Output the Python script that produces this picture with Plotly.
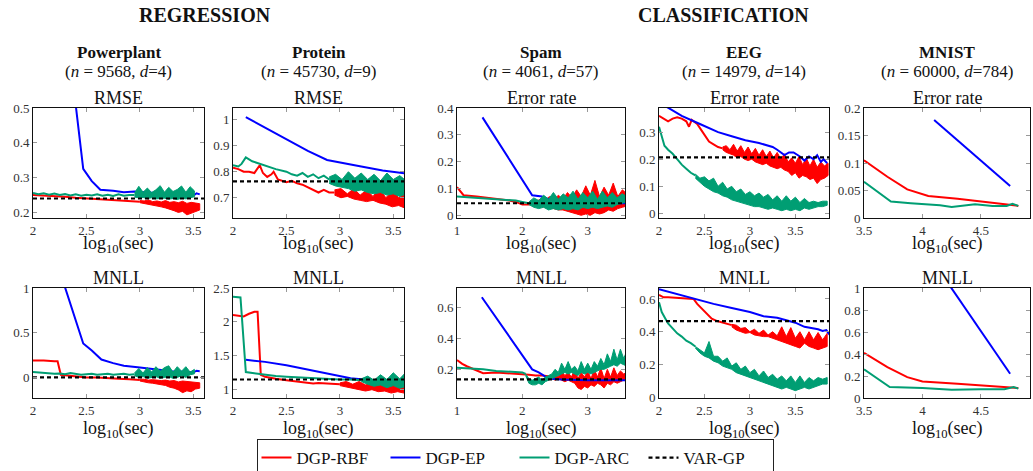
import plotly.graph_objects as go

# ---------------- colours / names ----------------
SERIES = ["DGP-RBF", "DGP-EP", "DGP-ARC", "VAR-GP"]
COLORS = {"DGP-RBF": "#ff0000", "DGP-EP": "#0000ff", "DGP-ARC": "#009e73", "VAR-GP": "#000000"}

# Each noisy series = a smooth part (x, y) followed by a noisy band (x, low, high).

# ---------------- Powerplant RMSE ----------------
pp_rmse_rbf_x = [2.0, 2.1, 2.2, 2.3, 2.4, 2.5, 2.6, 2.7, 2.8, 2.9, 3.0]
pp_rmse_rbf_y = [0.250, 0.249, 0.247, 0.245, 0.242, 0.240, 0.239, 0.237, 0.235, 0.233, 0.231]
pp_rmse_rbf_bx = [3.00, 3.04, 3.08, 3.12, 3.16, 3.20, 3.24, 3.28, 3.32, 3.36, 3.40, 3.44, 3.48, 3.52, 3.56]
pp_rmse_rbf_hi = [0.234, 0.233, 0.236, 0.231, 0.233, 0.230, 0.234, 0.229, 0.231, 0.228, 0.232, 0.226, 0.229, 0.227, 0.225]
pp_rmse_rbf_lo = [0.228, 0.224, 0.222, 0.221, 0.218, 0.216, 0.213, 0.210, 0.205, 0.200, 0.203, 0.193, 0.198, 0.203, 0.207]
pp_rmse_ep_x = [2.38, 2.47, 2.55, 2.63, 2.75, 2.85, 2.95, 3.05, 3.2, 3.35, 3.45, 3.5, 3.53, 3.56]
pp_rmse_ep_y = [0.56, 0.325, 0.29, 0.265, 0.262, 0.258, 0.26, 0.258, 0.255, 0.252, 0.25, 0.248, 0.255, 0.252]
pp_rmse_arc_x = [2.0, 2.05, 2.1, 2.15, 2.2, 2.25, 2.3, 2.35, 2.4, 2.45, 2.5, 2.55, 2.6, 2.65, 2.7, 2.75, 2.8, 2.85, 2.9, 2.95]
pp_rmse_arc_y = [0.256, 0.252, 0.255, 0.251, 0.254, 0.250, 0.253, 0.249, 0.252, 0.248, 0.251, 0.249, 0.252, 0.248, 0.251, 0.247, 0.252, 0.248, 0.250, 0.250]
pp_rmse_arc_bx = [2.95, 2.99, 3.03, 3.07, 3.11, 3.15, 3.19, 3.23, 3.27, 3.31, 3.35, 3.39, 3.43, 3.47, 3.51]
pp_rmse_arc_hi = [0.256, 0.275, 0.258, 0.270, 0.257, 0.265, 0.277, 0.258, 0.272, 0.260, 0.266, 0.276, 0.258, 0.274, 0.262]
pp_rmse_arc_lo = [0.244, 0.242, 0.243, 0.240, 0.242, 0.239, 0.240, 0.241, 0.238, 0.240, 0.237, 0.241, 0.239, 0.242, 0.245]
pp_rmse_var_x = [2.0, 3.6]
pp_rmse_var_y = [0.24, 0.24]

# ---------------- Powerplant MNLL ----------------
pp_mnll_rbf_x = [2.0, 2.1, 2.2, 2.23, 2.26, 2.3, 2.4, 2.5, 2.6, 2.7, 2.8, 2.9, 3.0]
pp_mnll_rbf_y = [0.19, 0.19, 0.18, 0.18, 0.03, 0.025, 0.015, 0.0, 0.0, -0.01, -0.015, -0.02, -0.03]
pp_mnll_rbf_bx = pp_rmse_rbf_bx
pp_mnll_rbf_hi = [-0.02, -0.02, -0.03, -0.025, -0.03, -0.035, -0.03, -0.04, -0.035, -0.05, -0.04, -0.045, -0.05, -0.06, -0.06]
pp_mnll_rbf_lo = [-0.04, -0.05, -0.06, -0.065, -0.07, -0.08, -0.09, -0.11, -0.12, -0.14, -0.17, -0.15, -0.16, -0.13, -0.12]
pp_mnll_ep_x = [2.28, 2.47, 2.55, 2.64, 2.75, 2.85, 3.0, 3.15, 3.3, 3.45, 3.5, 3.53, 3.56]
pp_mnll_ep_y = [1.08, 0.38, 0.3, 0.2, 0.16, 0.13, 0.11, 0.09, 0.07, 0.06, 0.055, 0.075, 0.07]
pp_mnll_arc_x = pp_rmse_arc_x
pp_mnll_arc_y = [0.06, 0.055, 0.05, 0.045, 0.04, 0.045, 0.035, 0.05, 0.04, 0.03, 0.035, 0.04, 0.03, 0.035, 0.04, 0.03, 0.035, 0.04, 0.03, 0.035]
pp_mnll_arc_bx = pp_rmse_arc_bx
pp_mnll_arc_hi = [0.05, 0.10, 0.05, 0.11, 0.06, 0.12, 0.07, 0.11, 0.13, 0.06, 0.12, 0.07, 0.12, 0.06, 0.09]
pp_mnll_arc_lo = [0.02, 0.0, 0.01, -0.01, 0.0, 0.01, -0.01, 0.0, 0.01, -0.01, 0.0, 0.02, 0.0, 0.03, 0.04]
pp_mnll_var_x = [2.0, 3.6]
pp_mnll_var_y = [0.0, 0.0]

# ---------------- Protein RMSE ----------------
pr_rmse_ep_x = [2.12, 2.3, 2.5, 2.7, 2.88, 3.0, 3.2, 3.4, 3.55, 3.62, 3.68, 3.72, 3.8, 3.86]
pr_rmse_ep_y = [1.01, 0.97, 0.925, 0.88, 0.845, 0.835, 0.82, 0.805, 0.795, 0.79, 0.79, 0.795, 0.792, 0.785]
pr_rmse_arc_x = [2.0, 2.05, 2.08, 2.12, 2.18, 2.25, 2.3, 2.4, 2.5, 2.55, 2.6, 2.65, 2.7, 2.75, 2.8, 2.85, 2.9]
pr_rmse_arc_y = [0.825, 0.82, 0.83, 0.855, 0.84, 0.83, 0.825, 0.81, 0.80, 0.79, 0.785, 0.795, 0.78, 0.79, 0.775, 0.785, 0.77]
pr_rmse_arc_bx = [2.90, 2.96, 3.02, 3.08, 3.14, 3.20, 3.26, 3.32, 3.38, 3.44, 3.50, 3.56, 3.62, 3.68, 3.74, 3.80, 3.86]
pr_rmse_arc_hi = [0.78, 0.79, 0.77, 0.80, 0.775, 0.795, 0.77, 0.79, 0.765, 0.795, 0.77, 0.785, 0.765, 0.79, 0.765, 0.78, 0.77]
pr_rmse_arc_lo = [0.755, 0.745, 0.74, 0.735, 0.725, 0.73, 0.72, 0.715, 0.72, 0.71, 0.715, 0.705, 0.715, 0.71, 0.72, 0.715, 0.72]
pr_rmse_rbf_x = [2.0, 2.05, 2.1, 2.15, 2.2, 2.25, 2.28, 2.32, 2.36, 2.38, 2.42, 2.5, 2.55, 2.6, 2.65, 2.7, 2.75, 2.8, 2.85, 2.9, 2.95]
pr_rmse_rbf_y = [0.815, 0.81, 0.80, 0.80, 0.795, 0.825, 0.795, 0.78, 0.79, 0.80, 0.77, 0.76, 0.765, 0.755, 0.75, 0.74, 0.73, 0.72, 0.73, 0.72, 0.72]
pr_rmse_rbf_bx = [2.95, 3.01, 3.07, 3.13, 3.19, 3.25, 3.31, 3.37, 3.43, 3.49, 3.55, 3.61, 3.67, 3.73, 3.79, 3.85]
pr_rmse_rbf_hi = [0.73, 0.735, 0.715, 0.735, 0.71, 0.73, 0.705, 0.735, 0.70, 0.725, 0.70, 0.72, 0.695, 0.715, 0.69, 0.70]
pr_rmse_rbf_lo = [0.71, 0.70, 0.705, 0.695, 0.69, 0.685, 0.69, 0.68, 0.675, 0.665, 0.67, 0.66, 0.665, 0.655, 0.665, 0.67]
pr_rmse_var_x = [2.0, 3.9]
pr_rmse_var_y = [0.763, 0.763]

# ---------------- Protein MNLL ----------------
pr_mnll_arc_x = [2.0, 2.07, 2.12, 2.2, 2.3, 2.4, 2.5, 2.6, 2.7, 2.8, 2.9, 3.0, 3.1, 3.2]
pr_mnll_arc_y = [2.37, 2.36, 1.26, 1.24, 1.22, 1.2, 1.19, 1.18, 1.17, 1.17, 1.16, 1.15, 1.15, 1.14]
pr_mnll_arc_bx = [3.20, 3.26, 3.32, 3.38, 3.44, 3.50, 3.56, 3.62, 3.68, 3.74, 3.80, 3.86]
pr_mnll_arc_hi = [1.16, 1.20, 1.14, 1.22, 1.15, 1.25, 1.16, 1.26, 1.15, 1.25, 1.16, 1.20]
pr_mnll_arc_lo = [1.12, 1.08, 1.05, 1.07, 1.03, 1.06, 1.02, 1.05, 1.03, 1.06, 1.04, 1.08]
pr_mnll_rbf_x = [2.0, 2.05, 2.1, 2.15, 2.2, 2.23, 2.26, 2.3, 2.35, 2.4, 2.5, 2.6, 2.7, 2.75, 2.8, 2.9, 3.0]
pr_mnll_rbf_y = [2.1, 2.09, 2.08, 2.12, 2.15, 2.15, 1.22, 1.19, 1.17, 1.16, 1.14, 1.12, 1.1, 1.09, 1.1, 1.09, 1.08]
pr_mnll_rbf_bx = [3.00, 3.06, 3.12, 3.18, 3.24, 3.30, 3.36, 3.42, 3.48, 3.54, 3.60, 3.66, 3.72, 3.78, 3.84]
pr_mnll_rbf_hi = [1.10, 1.12, 1.08, 1.12, 1.07, 1.14, 1.08, 1.13, 1.06, 1.15, 1.07, 1.12, 1.05, 1.10, 1.08]
pr_mnll_rbf_lo = [1.06, 1.04, 1.02, 1.00, 0.98, 1.00, 0.97, 0.98, 0.95, 0.97, 0.95, 0.96, 0.94, 0.97, 0.99]
pr_mnll_ep_x = [2.12, 2.3, 2.5, 2.7, 2.9, 3.1, 3.3, 3.5, 3.7, 3.86]
pr_mnll_ep_y = [1.44, 1.41, 1.36, 1.3, 1.23, 1.17, 1.14, 1.12, 1.11, 1.1]
pr_mnll_var_x = [2.0, 3.9]
pr_mnll_var_y = [1.15, 1.15]

# ---------------- Spam error rate ----------------
sp_err_ep_x = [1.39, 2.15, 2.3, 2.4, 2.5, 2.7, 3.0, 3.3, 3.6]
sp_err_ep_y = [0.365, 0.075, 0.07, 0.06, 0.05, 0.047, 0.045, 0.045, 0.045]
sp_err_rbf_x = [1.0, 1.05, 1.1, 1.3, 1.5, 1.7, 1.8, 1.9, 2.0, 2.1, 2.2]
sp_err_rbf_y = [0.105, 0.09, 0.075, 0.07, 0.065, 0.06, 0.055, 0.05, 0.04, 0.04, 0.045]
sp_err_rbf_bx = [2.20, 2.27, 2.34, 2.41, 2.48, 2.55, 2.62, 2.69, 2.76, 2.83, 2.90, 2.97, 3.04, 3.11, 3.18, 3.25, 3.32, 3.39, 3.46, 3.53, 3.60]
sp_err_rbf_hi = [0.05, 0.06, 0.05, 0.07, 0.055, 0.075, 0.06, 0.085, 0.065, 0.095, 0.07, 0.11, 0.075, 0.13, 0.07, 0.105, 0.075, 0.12, 0.07, 0.095, 0.08]
sp_err_rbf_lo = [0.04, 0.035, 0.03, 0.03, 0.025, 0.02, 0.02, 0.015, 0.01, 0.005, 0.0, 0.005, 0.0, 0.01, 0.005, 0.01, 0.02, 0.015, 0.025, 0.03, 0.035]
sp_err_arc_x = [1.0, 1.2, 1.4, 1.6, 1.8, 1.9, 2.0, 2.05, 2.1]
sp_err_arc_y = [0.07, 0.067, 0.063, 0.06, 0.058, 0.055, 0.05, 0.048, 0.045]
sp_err_arc_bx = [2.100, 2.175, 2.250, 2.325, 2.400, 2.475, 2.550, 2.625, 2.700, 2.775, 2.850, 2.925, 3.000, 3.075, 3.150, 3.225, 3.300, 3.375, 3.450, 3.525, 3.600]
sp_err_arc_hi = [0.05, 0.065, 0.055, 0.075, 0.06, 0.085, 0.06, 0.08, 0.065, 0.09, 0.06, 0.085, 0.065, 0.09, 0.06, 0.09, 0.065, 0.085, 0.065, 0.08, 0.07]
sp_err_arc_lo = [0.04, 0.03, 0.025, 0.03, 0.02, 0.025, 0.02, 0.025, 0.02, 0.025, 0.02, 0.03, 0.025, 0.03, 0.025, 0.03, 0.035, 0.03, 0.04, 0.045, 0.05]
sp_err_var_x = [1.0, 3.6]
sp_err_var_y = [0.045, 0.045]

# ---------------- Spam MNLL ----------------
sp_mnll_ep_x = [1.38, 2.15, 2.25, 2.4, 2.6, 3.0, 3.6]
sp_mnll_ep_y = [0.665, 0.2, 0.18, 0.14, 0.135, 0.13, 0.13]
sp_mnll_rbf_x = [1.0, 1.08, 1.15, 1.3, 1.4, 1.6, 1.8, 2.0, 2.1, 2.2, 2.3, 2.4, 2.45]
sp_mnll_rbf_y = [0.26, 0.235, 0.22, 0.19, 0.175, 0.18, 0.175, 0.17, 0.165, 0.16, 0.16, 0.155, 0.15]
sp_mnll_rbf_bx = [2.45, 2.50, 2.55, 2.60, 2.65, 2.70, 2.75, 2.80, 2.85, 2.90, 2.95, 3.00, 3.05, 3.10, 3.15, 3.20, 3.25, 3.30, 3.35, 3.40, 3.45, 3.50, 3.55, 3.60]
sp_mnll_rbf_hi = [0.16, 0.17, 0.15, 0.19, 0.16, 0.18, 0.15, 0.20, 0.14, 0.18, 0.15, 0.19, 0.14, 0.20, 0.15, 0.21, 0.14, 0.20, 0.15, 0.21, 0.16, 0.19, 0.17, 0.18]
sp_mnll_rbf_lo = [0.14, 0.13, 0.14, 0.13, 0.12, 0.13, 0.12, 0.11, 0.08, 0.07, 0.09, 0.08, 0.10, 0.09, 0.11, 0.10, 0.08, 0.11, 0.10, 0.12, 0.11, 0.12, 0.13, 0.12]
sp_mnll_arc_x = [1.0, 1.2, 1.4, 1.6, 1.8, 2.0, 2.05]
sp_mnll_arc_y = [0.21, 0.205, 0.2, 0.19, 0.185, 0.18, 0.17]
sp_mnll_arc_bx = [2.05, 2.10, 2.15, 2.20, 2.25, 2.30, 2.35, 2.40, 2.45, 2.50, 2.55, 2.60, 2.65, 2.70, 2.75, 2.80,
                  2.85, 2.90, 2.95, 3.00, 3.05, 3.10, 3.15, 3.20, 3.25, 3.30, 3.35, 3.40, 3.45, 3.50, 3.55, 3.60]
sp_mnll_arc_hi = [0.17, 0.14, 0.13, 0.14, 0.15, 0.13, 0.15, 0.16, 0.17, 0.20, 0.18, 0.24, 0.20, 0.25, 0.20, 0.22,
                  0.19, 0.25, 0.20, 0.24, 0.20, 0.25, 0.22, 0.27, 0.23, 0.30, 0.25, 0.33, 0.26, 0.33, 0.27, 0.32]
sp_mnll_arc_lo = [0.16, 0.11, 0.10, 0.10, 0.11, 0.10, 0.12, 0.13, 0.14, 0.15, 0.16, 0.17, 0.18, 0.17, 0.18, 0.17,
                  0.16, 0.18, 0.17, 0.18, 0.17, 0.18, 0.19, 0.20, 0.20, 0.21, 0.22, 0.23, 0.22, 0.24, 0.23, 0.22]
sp_mnll_var_x = [1.0, 3.6]
sp_mnll_var_y = [0.135, 0.135]

# ---------------- EEG error rate ----------------
eeg_err_ep_x = [2.05, 2.1, 2.25, 2.45, 2.65, 2.8, 2.95, 3.1, 3.25, 3.3, 3.38, 3.43, 3.48, 3.55, 3.6, 3.65, 3.7, 3.74, 3.78, 3.81, 3.85]
eeg_err_ep_y = [0.40, 0.39, 0.36, 0.33, 0.30, 0.285, 0.27, 0.26, 0.245, 0.235, 0.215, 0.225, 0.225, 0.21, 0.195, 0.21, 0.2, 0.215, 0.19, 0.2, 0.185]
eeg_err_rbf_x = [2.0, 2.05, 2.1, 2.15, 2.2, 2.25, 2.3, 2.33, 2.36, 2.38, 2.42, 2.46, 2.5, 2.55, 2.6, 2.65, 2.7]
eeg_err_rbf_y = [0.36, 0.35, 0.34, 0.35, 0.355, 0.35, 0.34, 0.32, 0.345, 0.34, 0.33, 0.31, 0.29, 0.265, 0.255, 0.245, 0.24]
eeg_err_rbf_bx = [2.70, 2.74, 2.78, 2.82, 2.86, 2.90, 2.94, 2.98, 3.02, 3.06, 3.10, 3.14, 3.18, 3.22, 3.26,
                  3.30, 3.34, 3.38, 3.42, 3.46, 3.50, 3.54, 3.58, 3.62, 3.66, 3.70, 3.74, 3.78, 3.82, 3.86]
eeg_err_rbf_hi = [0.245, 0.25, 0.235, 0.255, 0.23, 0.25, 0.225, 0.245, 0.22, 0.24, 0.215, 0.235, 0.21, 0.23, 0.205,
                  0.225, 0.20, 0.22, 0.19, 0.205, 0.185, 0.21, 0.18, 0.205, 0.175, 0.20, 0.17, 0.19, 0.175, 0.185]
eeg_err_rbf_lo = [0.235, 0.225, 0.22, 0.215, 0.205, 0.21, 0.20, 0.195, 0.20, 0.19, 0.185, 0.18, 0.185, 0.175, 0.17,
                  0.165, 0.17, 0.16, 0.155, 0.14, 0.15, 0.13, 0.14, 0.135, 0.125, 0.13, 0.11, 0.125, 0.13, 0.14]
eeg_err_arc_x = [2.0, 2.03, 2.06, 2.1, 2.15, 2.2, 2.25, 2.3, 2.35, 2.4]
eeg_err_arc_y = [0.32, 0.28, 0.25, 0.235, 0.22, 0.2, 0.18, 0.165, 0.15, 0.14]
eeg_err_arc_bx = [2.40, 2.45, 2.50, 2.55, 2.60, 2.65, 2.70, 2.75, 2.80, 2.85, 2.90, 2.95, 3.00, 3.05, 3.10,
                  3.15, 3.20, 3.25, 3.30, 3.35, 3.40, 3.45, 3.50, 3.55, 3.60, 3.65, 3.70, 3.75, 3.80, 3.85]
eeg_err_arc_hi = [0.145, 0.13, 0.135, 0.12, 0.13, 0.10, 0.115, 0.09, 0.10, 0.08, 0.09, 0.07, 0.08, 0.065, 0.075,
                  0.06, 0.07, 0.05, 0.065, 0.045, 0.065, 0.045, 0.06, 0.04, 0.055, 0.04, 0.045, 0.04, 0.045, 0.045]
eeg_err_arc_lo = [0.13, 0.115, 0.10, 0.09, 0.08, 0.075, 0.065, 0.06, 0.05, 0.045, 0.04, 0.035, 0.03, 0.025, 0.025,
                  0.02, 0.015, 0.02, 0.015, 0.01, 0.015, 0.01, 0.015, 0.01, 0.02, 0.015, 0.02, 0.025, 0.025, 0.03]
eeg_err_var_x = [2.0, 3.9]
eeg_err_var_y = [0.207, 0.207]

# ---------------- EEG MNLL ----------------
eeg_mnll_ep_x = [2.0, 2.2, 2.4, 2.6, 2.8, 3.0, 3.15, 3.3, 3.4, 3.5, 3.6, 3.7, 3.75, 3.8, 3.84, 3.88]
eeg_mnll_ep_y = [0.66, 0.63, 0.60, 0.57, 0.545, 0.52, 0.495, 0.485, 0.47, 0.455, 0.43, 0.42, 0.415, 0.405, 0.41, 0.38]
eeg_mnll_rbf_x = [2.0, 2.05, 2.1, 2.2, 2.3, 2.38, 2.42, 2.47, 2.52, 2.58, 2.64, 2.7, 2.75, 2.8]
eeg_mnll_rbf_y = [0.625, 0.61, 0.61, 0.605, 0.6, 0.6, 0.57, 0.54, 0.51, 0.48, 0.465, 0.455, 0.445, 0.44]
eeg_mnll_rbf_bx = [2.80, 2.85, 2.90, 2.95, 3.00, 3.05, 3.10, 3.15, 3.20, 3.25, 3.30, 3.35, 3.40, 3.45, 3.50,
                   3.55, 3.60, 3.65, 3.70, 3.75, 3.80, 3.85]
eeg_mnll_rbf_hi = [0.445, 0.44, 0.42, 0.425, 0.40, 0.415, 0.39, 0.41, 0.38, 0.40, 0.375, 0.43, 0.37, 0.425, 0.36,
                   0.40, 0.35, 0.40, 0.35, 0.395, 0.35, 0.39]
eeg_mnll_rbf_lo = [0.43, 0.41, 0.40, 0.39, 0.395, 0.38, 0.375, 0.37, 0.37, 0.36, 0.35, 0.34, 0.33, 0.32, 0.31,
                   0.30, 0.33, 0.31, 0.30, 0.29, 0.30, 0.31]
eeg_mnll_arc_x = [2.0, 2.03, 2.06, 2.1, 2.15, 2.2, 2.25, 2.3, 2.35, 2.4]
eeg_mnll_arc_y = [0.58, 0.52, 0.49, 0.45, 0.42, 0.39, 0.37, 0.345, 0.33, 0.31]
eeg_mnll_arc_bx = eeg_err_arc_bx
eeg_mnll_arc_hi = [0.31, 0.29, 0.27, 0.34, 0.25, 0.25, 0.22, 0.24, 0.19, 0.21, 0.17, 0.19, 0.15, 0.17, 0.13,
                   0.16, 0.12, 0.14, 0.11, 0.13, 0.10, 0.13, 0.09, 0.13, 0.09, 0.12, 0.10, 0.12, 0.11, 0.12]
eeg_mnll_arc_lo = [0.30, 0.27, 0.25, 0.24, 0.22, 0.21, 0.19, 0.18, 0.17, 0.15, 0.14, 0.13, 0.12, 0.11, 0.10,
                   0.09, 0.08, 0.07, 0.06, 0.05, 0.06, 0.05, 0.04, 0.05, 0.06, 0.05, 0.06, 0.07, 0.08, 0.08]
eeg_mnll_var_x = [2.0, 3.9]
eeg_mnll_var_y = [0.465, 0.465]

# ---------------- MNIST ----------------
mn_err_ep_x = [4.1, 4.75]
mn_err_ep_y = [0.178, 0.058]
mn_err_rbf_x = [3.5, 3.7, 3.87, 4.05, 4.3, 4.5, 4.7, 4.82]
mn_err_rbf_y = [0.105, 0.075, 0.052, 0.04, 0.035, 0.03, 0.025, 0.022]
mn_err_arc_x = [3.5, 3.73, 3.9, 4.15, 4.25, 4.45, 4.6, 4.72, 4.77, 4.82]
mn_err_arc_y = [0.066, 0.03, 0.027, 0.023, 0.02, 0.025, 0.022, 0.022, 0.026, 0.022]
mn_mnll_ep_x = [4.17, 4.75]
mn_mnll_ep_y = [1.12, 0.22]
mn_mnll_rbf_x = [3.5, 3.7, 3.87, 4.0, 4.3, 4.6, 4.82]
mn_mnll_rbf_y = [0.41, 0.28, 0.19, 0.15, 0.13, 0.11, 0.09]
mn_mnll_arc_x = [3.5, 3.72, 4.0, 4.25, 4.5, 4.7, 4.78, 4.82]
mn_mnll_arc_y = [0.26, 0.1, 0.09, 0.075, 0.08, 0.08, 0.1, 0.085]

# ---------------- titles / ticks ----------------
dataset_names = ["Powerplant", "Protein", "Spam", "EEG", "MNIST"]
dataset_subtitles = ["(<i>n</i> = 9568, <i>d</i>=4)", "(<i>n</i> = 45730, <i>d</i>=9)",
                     "(<i>n</i> = 4061, <i>d</i>=57)", "(<i>n</i> = 14979, <i>d</i>=14)",
                     "(<i>n</i> = 60000, <i>d</i>=784)"]
top_metric = ["RMSE", "RMSE", "Error rate", "Error rate", "Error rate"]
bottom_metric = ["MNLL"] * 5
group_titles = ["REGRESSION", "CLASSIFICATION"]
xlabel = "log<sub>10</sub>(sec)"

x_ticks = [[2, 2.5, 3, 3.5], [2, 2.5, 3, 3.5], [1, 2, 3], [2, 2.5, 3, 3.5], [3.5, 4, 4.5]]
x_ticktext = [["2", "2.5", "3", "3.5"], ["2", "2.5", "3", "3.5"], ["1", "2", "3"],
              ["2", "2.5", "3", "3.5"], ["3.5", "4", "4.5"]]
x_ranges = [[2, 3.6], [2, 3.6], [1, 3.57], [2, 3.87], [3.5, 4.92]]

top_yticks = [[0.2, 0.3, 0.4, 0.5], [0.7, 0.8, 0.9, 1], [0, 0.1, 0.2, 0.3, 0.4], [0, 0.1, 0.2, 0.3], [0, 0.05, 0.1, 0.15, 0.2]]
top_yticktext = [["0.2", "0.3", "0.4", "0.5"], ["0.7", "0.8", "0.9", "1"], ["0", "0.1", "0.2", "0.3", "0.4"],
                 ["0", "0.1", "0.2", "0.3"], ["0", "0.05", "0.1", "0.15", "0.2"]]
top_yranges = [[0.184, 0.5], [0.622, 1.045], [-0.01, 0.4], [-0.017, 0.389], [0, 0.2]]
bot_yticks = [[0, 0.5, 1], [1, 1.5, 2, 2.5], [0.2, 0.4, 0.6], [0, 0.2, 0.4, 0.6], [0, 0.2, 0.4, 0.6, 0.8, 1]]
bot_yticktext = [["0", "0.5", "1"], ["1", "1.5", "2", "2.5"], ["0.2", "0.4", "0.6"], ["0", "0.2", "0.4", "0.6"],
                 ["0", "0.2", "0.4", "0.6", "0.8", "1"]]
bot_yranges = [[-0.23, 1.0], [0.877, 2.5], [0.015, 0.725], [-0.005, 0.667], [0, 1.0]]

# panel content: list of (series, x, y, band) with band = (bx, lo, hi) or None
panels = {
    (0, 0): [("DGP-RBF", pp_rmse_rbf_x, pp_rmse_rbf_y, (pp_rmse_rbf_bx, pp_rmse_rbf_lo, pp_rmse_rbf_hi)),
             ("DGP-EP", pp_rmse_ep_x, pp_rmse_ep_y, None),
             ("DGP-ARC", pp_rmse_arc_x, pp_rmse_arc_y, (pp_rmse_arc_bx, pp_rmse_arc_lo, pp_rmse_arc_hi)),
             ("VAR-GP", pp_rmse_var_x, pp_rmse_var_y, None)],
    (1, 0): [("DGP-RBF", pp_mnll_rbf_x, pp_mnll_rbf_y, (pp_mnll_rbf_bx, pp_mnll_rbf_lo, pp_mnll_rbf_hi)),
             ("DGP-EP", pp_mnll_ep_x, pp_mnll_ep_y, None),
             ("DGP-ARC", pp_mnll_arc_x, pp_mnll_arc_y, (pp_mnll_arc_bx, pp_mnll_arc_lo, pp_mnll_arc_hi)),
             ("VAR-GP", pp_mnll_var_x, pp_mnll_var_y, None)],
    (0, 1): [("DGP-RBF", pr_rmse_rbf_x, pr_rmse_rbf_y, (pr_rmse_rbf_bx, pr_rmse_rbf_lo, pr_rmse_rbf_hi)),
             ("DGP-EP", pr_rmse_ep_x, pr_rmse_ep_y, None),
             ("DGP-ARC", pr_rmse_arc_x, pr_rmse_arc_y, (pr_rmse_arc_bx, pr_rmse_arc_lo, pr_rmse_arc_hi)),
             ("VAR-GP", pr_rmse_var_x, pr_rmse_var_y, None)],
    (1, 1): [("DGP-RBF", pr_mnll_rbf_x, pr_mnll_rbf_y, (pr_mnll_rbf_bx, pr_mnll_rbf_lo, pr_mnll_rbf_hi)),
             ("DGP-EP", pr_mnll_ep_x, pr_mnll_ep_y, None),
             ("DGP-ARC", pr_mnll_arc_x, pr_mnll_arc_y, (pr_mnll_arc_bx, pr_mnll_arc_lo, pr_mnll_arc_hi)),
             ("VAR-GP", pr_mnll_var_x, pr_mnll_var_y, None)],
    (0, 2): [("DGP-RBF", sp_err_rbf_x, sp_err_rbf_y, (sp_err_rbf_bx, sp_err_rbf_lo, sp_err_rbf_hi)),
             ("DGP-EP", sp_err_ep_x, sp_err_ep_y, None),
             ("DGP-ARC", sp_err_arc_x, sp_err_arc_y, (sp_err_arc_bx, sp_err_arc_lo, sp_err_arc_hi)),
             ("VAR-GP", sp_err_var_x, sp_err_var_y, None)],
    (1, 2): [("DGP-RBF", sp_mnll_rbf_x, sp_mnll_rbf_y, (sp_mnll_rbf_bx, sp_mnll_rbf_lo, sp_mnll_rbf_hi)),
             ("DGP-EP", sp_mnll_ep_x, sp_mnll_ep_y, None),
             ("DGP-ARC", sp_mnll_arc_x, sp_mnll_arc_y, (sp_mnll_arc_bx, sp_mnll_arc_lo, sp_mnll_arc_hi)),
             ("VAR-GP", sp_mnll_var_x, sp_mnll_var_y, None)],
    (0, 3): [("DGP-RBF", eeg_err_rbf_x, eeg_err_rbf_y, (eeg_err_rbf_bx, eeg_err_rbf_lo, eeg_err_rbf_hi)),
             ("DGP-EP", eeg_err_ep_x, eeg_err_ep_y, None),
             ("DGP-ARC", eeg_err_arc_x, eeg_err_arc_y, (eeg_err_arc_bx, eeg_err_arc_lo, eeg_err_arc_hi)),
             ("VAR-GP", eeg_err_var_x, eeg_err_var_y, None)],
    (1, 3): [("DGP-RBF", eeg_mnll_rbf_x, eeg_mnll_rbf_y, (eeg_mnll_rbf_bx, eeg_mnll_rbf_lo, eeg_mnll_rbf_hi)),
             ("DGP-EP", eeg_mnll_ep_x, eeg_mnll_ep_y, None),
             ("DGP-ARC", eeg_mnll_arc_x, eeg_mnll_arc_y, (eeg_mnll_arc_bx, eeg_mnll_arc_lo, eeg_mnll_arc_hi)),
             ("VAR-GP", eeg_mnll_var_x, eeg_mnll_var_y, None)],
    (0, 4): [("DGP-RBF", mn_err_rbf_x, mn_err_rbf_y, None), ("DGP-EP", mn_err_ep_x, mn_err_ep_y, None),
             ("DGP-ARC", mn_err_arc_x, mn_err_arc_y, None)],
    (1, 4): [("DGP-RBF", mn_mnll_rbf_x, mn_mnll_rbf_y, None), ("DGP-EP", mn_mnll_ep_x, mn_mnll_ep_y, None),
             ("DGP-ARC", mn_mnll_arc_x, mn_mnll_arc_y, None)],
}

# ---------------- layout geometry (pixels) ----------------
W, H = 1033, 471
col_px = [(33, 204), (233, 404), (457, 625), (659, 829), (864, 1030)]
row_px = [(108, 218), (288, 398)]

FONT = "Liberation Serif, Times New Roman, serif"


def px_x(p):
    return p / W


def px_y(p):
    return 1 - p / H


fig = go.Figure()
layout = dict(
    width=W, height=H, autosize=False,
    margin=dict(l=0, r=0, t=0, b=0, pad=0, autoexpand=False),
    paper_bgcolor="white", plot_bgcolor="white",
    font=dict(family=FONT, size=13, color="#222"),
    showlegend=True,
)
annotations = []
legend_done = set()

for r in range(2):
    for c in range(5):
        idx = r * 5 + c + 1
        xa = "xaxis" if idx == 1 else f"xaxis{idx}"
        ya = "yaxis" if idx == 1 else f"yaxis{idx}"
        xref = "x" if idx == 1 else f"x{idx}"
        yref = "y" if idx == 1 else f"y{idx}"
        x0, x1 = col_px[c]
        ytop, ybot = row_px[r]
        common = dict(showline=True, linecolor="#111", linewidth=1, mirror="ticks",
                      ticks="inside", ticklen=4, tickcolor="#999", tickwidth=1,
                      showgrid=False, zeroline=False, automargin=False,
                      tickfont=dict(family=FONT, size=13, color="#333"))
        layout[xa] = dict(common, domain=[px_x(x0), px_x(x1)], anchor=yref,
                          range=x_ranges[c], tickmode="array", tickvals=x_ticks[c], ticktext=x_ticktext[c])
        yt = top_yticks if r == 0 else bot_yticks
        ytt = top_yticktext if r == 0 else bot_yticktext
        yr = top_yranges if r == 0 else bot_yranges
        layout[ya] = dict(common, domain=[px_y(ybot), px_y(ytop)], anchor=xref,
                          range=yr[c], tickmode="array", tickvals=yt[c], ticktext=ytt[c])
        for name, xs, ys, band in panels[(r, c)]:
            show = name not in legend_done
            legend_done.add(name)
            col = COLORS[name]
            if band is not None:
                bx, lo, hi = band
                fig.add_trace(go.Scatter(x=list(bx) + list(bx)[::-1], y=list(hi) + list(lo)[::-1],
                                         mode="lines", fill="toself", fillcolor=col,
                                         line=dict(color=col, width=1), xaxis=xref, yaxis=yref,
                                         showlegend=False, legendgroup=name, hoverinfo="skip"))
            line = dict(color=col, width=2)
            if name == "VAR-GP":
                line = dict(color="#000", width=2.2, dash="4px,3px")
            fig.add_trace(go.Scatter(x=xs, y=ys, mode="lines", name=name, line=line,
                                     xaxis=xref, yaxis=yref, legendgroup=name, showlegend=show,
                                     hoverinfo="skip"))
        xc = px_x((x0 + x1) / 2)
        annotations.append(dict(text=xlabel, x=xc, y=px_y(244 if r == 0 else 429), xref="paper", yref="paper",
                                showarrow=False, font=dict(family=FONT, size=18, color="#111"),
                                xanchor="center", yanchor="middle"))
        annotations.append(dict(text=(top_metric if r == 0 else bottom_metric)[c], x=xc,
                                y=px_y(98 if r == 0 else 278), xref="paper", yref="paper", showarrow=False,
                                font=dict(family=FONT, size=18, color="#111"), xanchor="center", yanchor="middle"))
        if r == 0:
            annotations.append(dict(text="<b>" + dataset_names[c] + "</b>", x=xc, y=px_y(53), xref="paper",
                                    yref="paper", showarrow=False, font=dict(family=FONT, size=17, color="#111"),
                                    xanchor="center", yanchor="middle"))
            annotations.append(dict(text=dataset_subtitles[c], x=xc, y=px_y(72), xref="paper",
                                    yref="paper", showarrow=False, font=dict(family=FONT, size=17, color="#111"),
                                    xanchor="center", yanchor="middle"))

annotations.append(dict(text="<b>" + group_titles[0] + "</b>", x=px_x(205), y=px_y(15), xref="paper", yref="paper",
                        showarrow=False, font=dict(family=FONT, size=20, color="#111"), xanchor="center", yanchor="middle"))
annotations.append(dict(text="<b>" + group_titles[1] + "</b>", x=px_x(723), y=px_y(15), xref="paper", yref="paper",
                        showarrow=False, font=dict(family=FONT, size=20, color="#111"), xanchor="center", yanchor="middle"))

layout["annotations"] = annotations
layout["legend"] = dict(orientation="h", x=px_x(515), xanchor="center", y=px_y(439), yanchor="top",
                        bordercolor="#222", borderwidth=1, bgcolor="white",
                        font=dict(family=FONT, size=17, color="#111"),
                        itemwidth=30, entrywidth=84, tracegroupgap=0)
fig.update_layout(**layout)
fig.write_html("out.html", config={"displayModeBar": False, "responsive": False},
               default_width="1033px", default_height="471px",
               post_script="document.body.style.margin='0px';document.body.style.overflow='hidden';")
